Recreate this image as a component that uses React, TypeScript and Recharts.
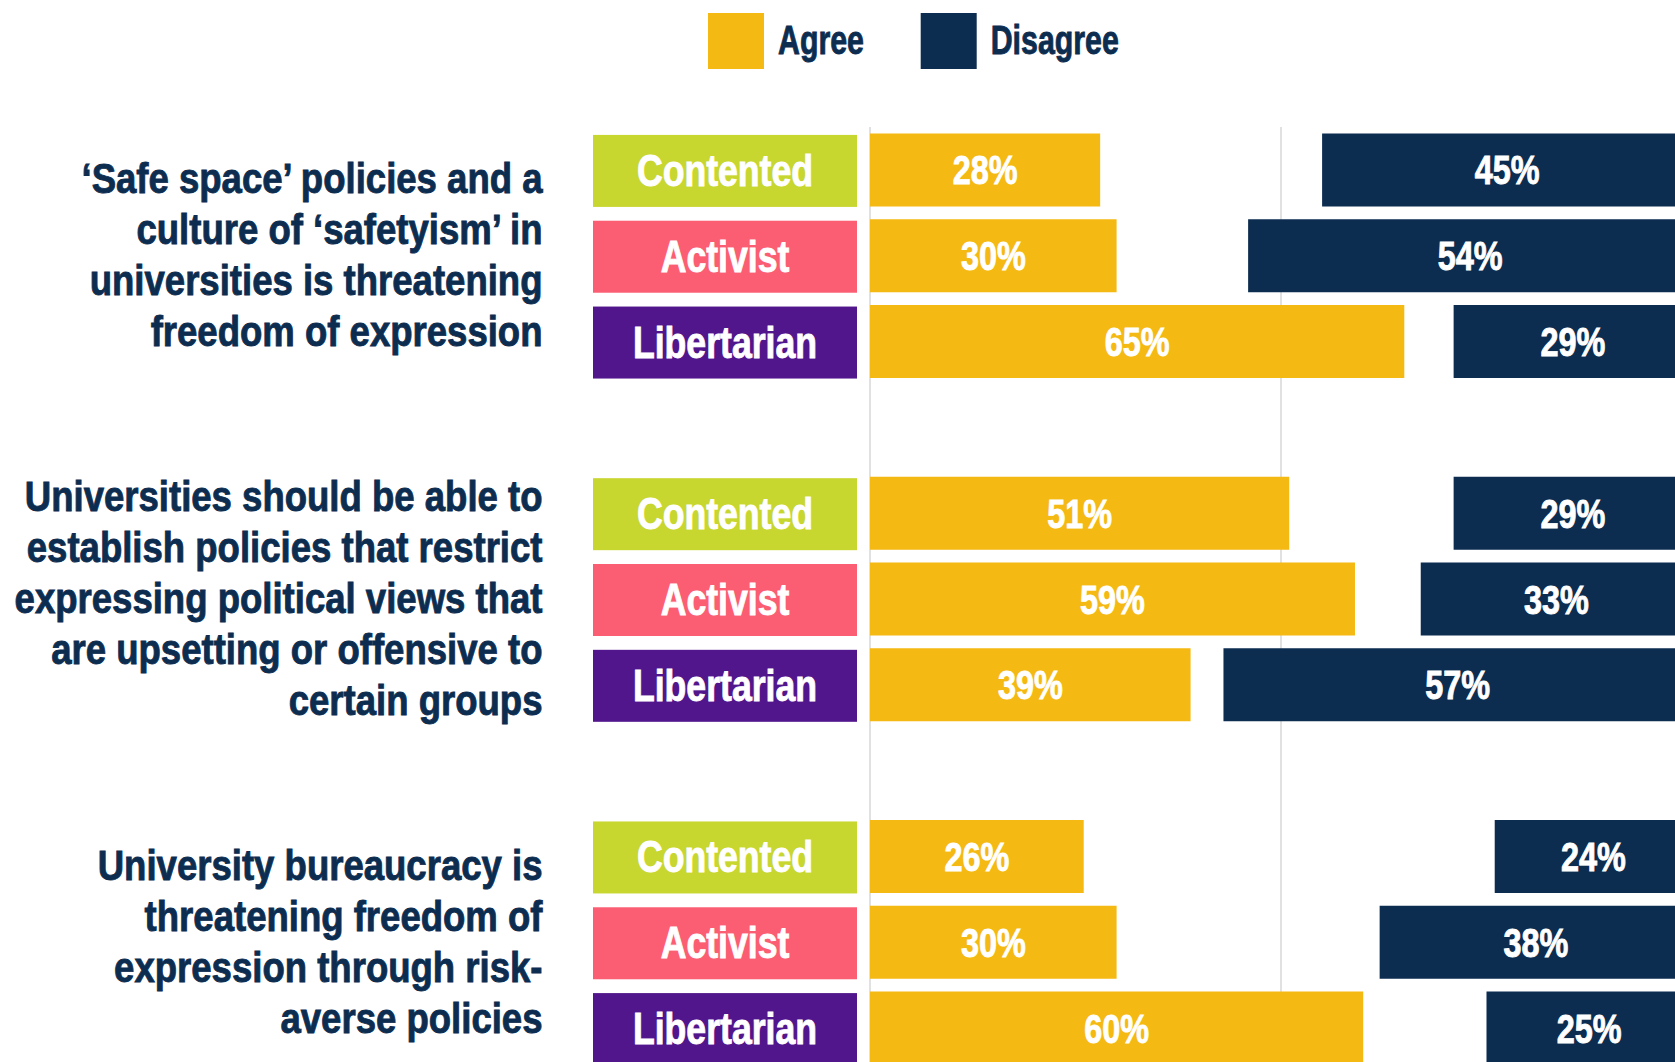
import React from 'react';
import { BarChart, Bar, XAxis, YAxis, CartesianGrid, Legend, LabelList } from 'recharts';

// Survey: agreement with statements about free expression on campus, by segment.
const SEGMENTS = ['Contented', 'Activist', 'Libertarian'];

const QUESTIONS = [
  ['‘Safe space’ policies and a', 'culture of ‘safetyism’ in', 'universities is threatening', 'freedom of expression'],
  [
    'Universities should be able to',
    'establish policies that restrict',
    'expressing political views that',
    'are upsetting or offensive to',
    'certain groups',
  ],
  ['University bureaucracy is', 'threatening freedom of', 'expression through risk-', 'averse policies'],
];

// one inner array per question, in SEGMENTS order
const AGREE = [
  [28, 30, 65],
  [51, 59, 39],
  [26, 30, 60],
];
const DISAGREE = [
  [45, 54, 29],
  [29, 33, 57],
  [24, 38, 25],
];

const X_TICKS = [0, 50, 100];

const SERIES = [
  { key: 'agree', name: 'Agree', color: '#f5b913' },
  { key: 'disagree', name: 'Disagree', color: '#0d2d50' },
];

const SEGMENT_COLORS: Record<string, string> = {
  Contented: '#c8d630',
  Activist: '#fb5e73',
  Libertarian: '#52168c',
};

const NAVY = '#0d2d50';
const FONT = "'Liberation Sans', Arial, sans-serif";

type Row = {
  key: string;
  group?: number;
  segment?: string;
  agree?: number;
  space?: number;
  disagree?: number;
};

// disagree is anchored at 100 on the right, so the stack is agree | blank | disagree
const rows: Row[] = [];
QUESTIONS.forEach((_, g) => {
  if (g > 0) rows.push({ key: `spacer-${g}` });
  SEGMENTS.forEach((segment, i) => {
    const agree = AGREE[g][i];
    const disagree = DISAGREE[g][i];
    rows.push({ key: `${g}-${segment}`, group: g, segment, agree, space: 100 - agree - disagree, disagree });
  });
});

// No condensed face is installed, so squeeze a bold one horizontally.
function CText({ x, y, size, sx, fill, anchor = 'middle', weight = 0.9, children }: any) {
  return (
    <text
      transform={`translate(${x},${y}) scale(${sx},1)`}
      textAnchor={anchor}
      fontFamily={FONT}
      fontWeight={700}
      fontSize={size}
      fill={fill}
      stroke={fill}
      strokeWidth={weight}
    >
      {children}
    </text>
  );
}

function RowTick({ x, y, payload }: any) {
  const row = rows.find((r) => r.key === payload.value);
  if (!row || !row.segment) return null;
  const boxW = 264;
  const boxH = 72;
  const lines = QUESTIONS[row.group!];
  return (
    <g>
      <rect x={x - boxW} y={y - boxH / 2 + 1} width={boxW} height={boxH} fill={SEGMENT_COLORS[row.segment]} />
      <CText x={x - boxW / 2} y={y + 16} size={44} sx={0.81} fill="#fff">
        {row.segment}
      </CText>
      {row.segment === 'Activist' &&
        lines.map((line, i) => (
          <CText
            key={i}
            x={x - boxW - 50.5}
            y={y + (i - (lines.length - 1) / 2) * 51 + 14}
            anchor="end"
            size={43}
            sx={0.85}
            fill={NAVY}
          >
            {line}
          </CText>
        ))}
    </g>
  );
}

function PctLabel({ x, y, width, height, value }: any) {
  if (value == null) return null;
  return (
    <CText x={x + width / 2} y={y + height / 2 + 14.5} size={40} sx={0.81} fill="#fff">
      {`${value}%`}
    </CText>
  );
}

function LegendContent() {
  return (
    <svg width={440} height={80} style={{ display: 'block' }}>
      {SERIES.map((s, i) => {
        const left = i * 212.7;
        return (
          <g key={s.key}>
            <rect x={left} y={13} width={56} height={56} fill={s.color} />
            <CText x={left + 70} y={54} size={41} sx={0.74} fill={NAVY} anchor="start">
              {s.name}
            </CText>
          </g>
        );
      })}
    </svg>
  );
}

export default function App() {
  return (
    <div
      style={{
        position: 'absolute',
        left: 0,
        top: 0,
        width: 1675,
        height: 1062,
        overflow: 'hidden',
        background: '#fff',
      }}
    >
      <BarChart
        width={1700}
        height={1080}
        data={rows}
        layout="vertical"
        margin={{ top: 127, right: 8, bottom: 9, left: 0 }}
        barCategoryGap="7.5%"
      >
        <CartesianGrid horizontal={false} stroke="#e1e1e1" strokeWidth={2} />
        <XAxis type="number" domain={[0, 100]} ticks={X_TICKS} hide />
        <YAxis
          type="category"
          dataKey="key"
          width={870}
          axisLine={false}
          tickLine={false}
          tickSize={0}
          tickMargin={13}
          interval={0}
          tick={<RowTick />}
        />
        <Legend
          verticalAlign="top"
          align="left"
          wrapperStyle={{ top: 0, left: 708, width: 'auto', height: 0, overflow: 'visible' }}
          content={<LegendContent />}
        />
        <Bar dataKey="agree" name="Agree" stackId="s" fill={SERIES[0].color} isAnimationActive={false}>
          <LabelList dataKey="agree" content={<PctLabel />} />
        </Bar>
        <Bar dataKey="space" stackId="s" fill="transparent" legendType="none" isAnimationActive={false} />
        <Bar dataKey="disagree" name="Disagree" stackId="s" fill={SERIES[1].color} isAnimationActive={false}>
          <LabelList dataKey="disagree" content={<PctLabel />} />
        </Bar>
      </BarChart>
    </div>
  );
}
